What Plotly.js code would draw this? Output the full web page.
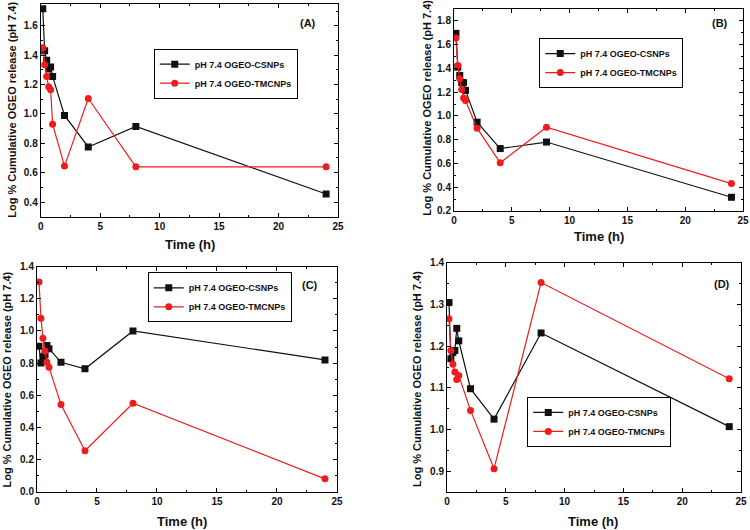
<!DOCTYPE html>
<html>
<head>
<meta charset="utf-8">
<script src="https://cdn.plot.ly/plotly-3.0.1.min.js"></script>
<style>
  html, body { margin: 0; padding: 0; background: #fff; }
  #chart { width: 750px; height: 530px; }
</style>
</head>
<body>
<div id="chart"></div>
<script>
// sampling times (h), same for every panel
const hours = [0.17, 0.33, 0.5, 0.67, 0.83, 1, 2, 4, 8, 24];

// panel (A)
const csnpA   = [1.715, 1.43, 1.365, 1.305, 1.32, 1.255, 0.99, 0.775, 0.915, 0.455];
const tmcnpA  = [1.45, 1.335, 1.255, 1.185, 1.165, 0.93, 0.645, 1.105, 0.64, 0.64];
// panel (B)
const csnpB   = [1.695, 1.41, 1.34, 1.28, 1.28, 1.215, 0.947, 0.725, 0.78, 0.315];
const tmcnpB  = [1.656, 1.424, 1.312, 1.222, 1.15, 1.13, 0.897, 0.605, 0.905, 0.43];
// panel (C)
const csnpC   = [0.905, 0.80, 0.84, 0.85, 0.91, 0.89, 0.805, 0.765, 1.0, 0.82];
const tmcnpC  = [1.305, 1.08, 0.955, 0.875, 0.805, 0.775, 0.543, 0.255, 0.55, 0.08];
// panel (D)
const csnpD   = [1.305, 1.17, 1.185, 1.19, 1.243, 1.213, 1.098, 1.025, 1.232, 1.007];
const tmcnpD  = [1.266, 1.19, 1.157, 1.138, 1.12, 1.13, 1.046, 0.906, 1.353, 1.122];

const nameCS = 'pH 7.4 OGEO-CSNPs';
const nameTM = 'pH 7.4 OGEO-TMCNPs';
const panelLabels = ['(A)', '(B)', '(C)', '(D)'];
const yTitle = 'Log % Cumulative OGEO release (pH 7.4)';
const xTitle = 'Time (h)';

const BLACK = '#111111';
const RED = '#ee1c1c';
const FONT = 'Arial, "Liberation Sans", sans-serif';

const panels = [
  { cs: csnpA, tm: tmcnpA, ax: '',  leg: 'legend'  },
  { cs: csnpB, tm: tmcnpB, ax: '2', leg: 'legend2' },
  { cs: csnpC, tm: tmcnpC, ax: '3', leg: 'legend3' },
  { cs: csnpD, tm: tmcnpD, ax: '4', leg: 'legend4' }
];

let traces = [];
panels.forEach(p => {
  traces.push({
    x: hours, y: p.cs, name: nameCS, mode: 'lines+markers',
    xaxis: 'x' + p.ax, yaxis: 'y' + p.ax, legend: p.leg,
    line: { color: BLACK, width: 1.2 },
    marker: { symbol: 'square', size: 7, color: BLACK }
  });
  traces.push({
    x: hours, y: p.tm, name: nameTM, mode: 'lines+markers',
    xaxis: 'x' + p.ax, yaxis: 'y' + p.ax, legend: p.leg,
    line: { color: RED, width: 1.2 },
    marker: { symbol: 'circle', size: 7, color: RED }
  });
});

function xAxis(domain, anchor) {
  return {
    domain: domain, anchor: anchor, range: [0, 25], dtick: 5, tick0: 0,
    showgrid: false, zeroline: false, showline: true, mirror: 'ticks',
    linecolor: '#000', linewidth: 1, ticks: 'inside', ticklen: 4, tickcolor: '#000',
    minor: { dtick: 2.5, ticks: 'inside', ticklen: 2, tickcolor: '#000' },
    tickfont: { family: FONT, size: 10, color: '#111', weight: 'bold' }
  };
}
function yAxis(domain, anchor, range, dtick) {
  return {
    domain: domain, anchor: anchor, range: range, dtick: dtick, tick0: 0,
    showgrid: false, zeroline: false, showline: true, mirror: 'ticks',
    linecolor: '#000', linewidth: 1, ticks: 'inside', ticklen: 4, tickcolor: '#000',
    minor: { dtick: dtick / 2, ticks: 'inside', ticklen: 2, tickcolor: '#000' },
    tickformat: '.1f',
    tickfont: { family: FONT, size: 10, color: '#111', weight: 'bold' }
  };
}

// legend boxes centred where the reference has them
function legendAt(x, y) {
  return {
    x: x, y: y, xanchor: 'left', yanchor: 'middle',
    bgcolor: 'rgba(255,255,255,0)', bordercolor: '#000', borderwidth: 1,
    font: { family: FONT, size: 9, color: '#111', weight: 'bold' },
    itemwidth: 30, tracegroupgap: 0
  };
}

// text helpers (paper coords, centred)
function txt(text, x, y, size, angle) {
  return {
    text: text, x: x, y: y, xref: 'paper', yref: 'paper',
    xanchor: 'center', yanchor: 'middle',
    showarrow: false, textangle: angle || 0,
    font: { family: FONT, size: size, color: '#111', weight: 'bold' }
  };
}

const annotations = [
  txt(yTitle, 0.016, 0.793, 11, -90),
  txt(yTitle, 0.569, 0.796, 11, -90),
  txt(yTitle, 0.010, 0.283, 11, -90),
  txt(yTitle, 0.556, 0.285, 11, -90),
  txt(xTitle, 0.253, 0.538, 13),
  txt(xTitle, 0.799, 0.553, 13),
  txt(xTitle, 0.243, 0.016, 13),
  txt(xTitle, 0.791, 0.016, 13),
  txt(panelLabels[0], 0.411, 0.957, 11),
  txt(panelLabels[1], 0.960, 0.957, 11),
  txt(panelLabels[2], 0.413, 0.462, 11),
  txt(panelLabels[3], 0.963, 0.464, 11)
];

const layout = {
  width: 750, height: 530,
  margin: { l: 0, r: 0, t: 0, b: 0 },
  paper_bgcolor: '#fff', plot_bgcolor: '#fff',
  showlegend: true,
  xaxis:  xAxis([0.0543, 0.4507], 'y'),
  yaxis:  yAxis([0.591, 0.993], 'x', [0.3, 1.75], 0.2),
  xaxis2: xAxis([0.6053, 0.9907], 'y2'),
  yaxis2: yAxis([0.602, 0.983], 'x2', [0.2, 1.9], 0.2),
  xaxis3: xAxis([0.0493, 0.4493], 'y3'),
  yaxis3: yAxis([0.0723, 0.4968], 'x3', [0, 1.4], 0.2),
  xaxis4: xAxis([0.596, 0.988], 'y4'),
  yaxis4: yAxis([0.0717, 0.5038], 'x4', [0.85, 1.4], 0.1),
  legend:  legendAt(0.205, 0.861),
  legend2: legendAt(0.719, 0.881),
  legend3: legendAt(0.197, 0.439),
  legend4: legendAt(0.703, 0.204),
  annotations: annotations
};

Plotly.newPlot('chart', traces, layout, { displayModeBar: false, staticPlot: true });
</script>
</body>
</html>
